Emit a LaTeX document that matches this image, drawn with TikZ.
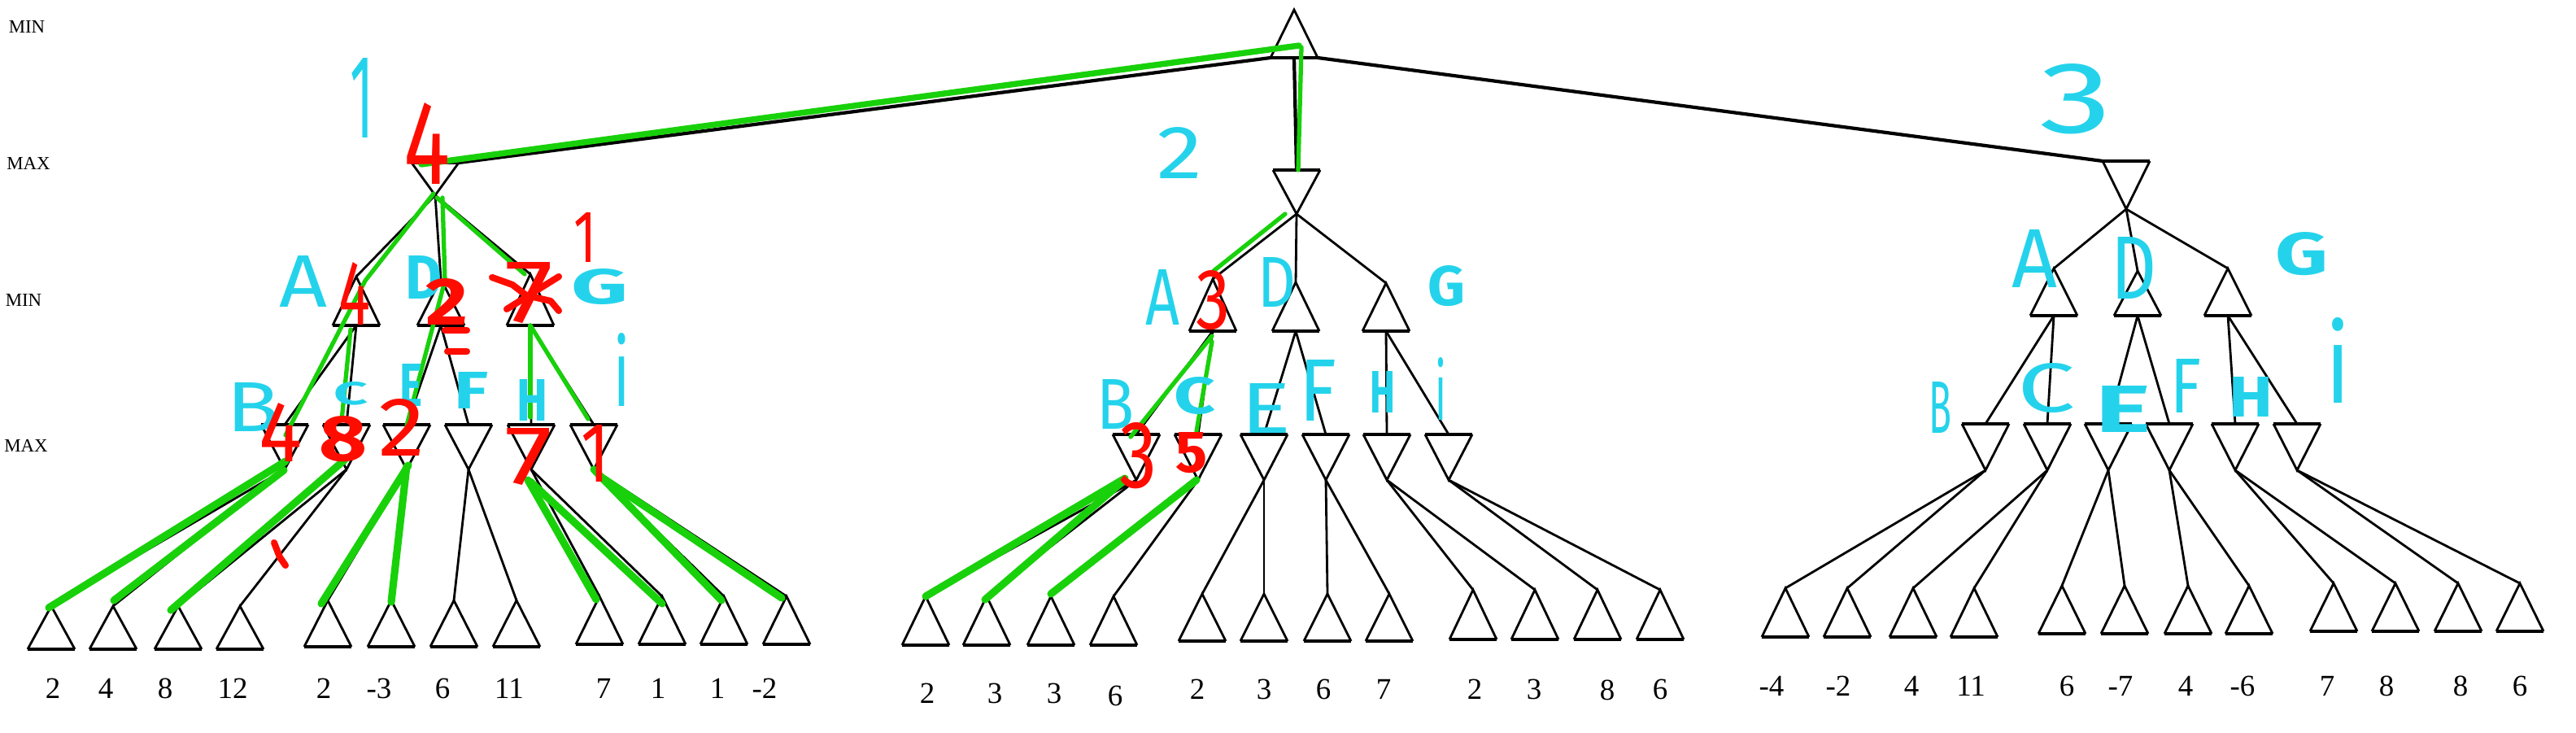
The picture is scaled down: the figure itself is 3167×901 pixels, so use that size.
\documentclass[tikz,border=0pt]{standalone}
\usepackage{fontspec}
\setmainfont{Liberation Serif}
\newfontfamily\hand{Fira Sans}
\usepackage{graphicx}
\newlength\pxu
\setlength\pxu{0.01cm}
\definecolor{hgreen}{RGB}{24,209,10}
\definecolor{hred}{RGB}{255,12,0}
\definecolor{hcyan}{RGB}{36,211,235}
\tikzset{
  side/.style={line width=0.8pt, line join=miter},
  tbase/.style={line width=1.4pt},
  edge/.style={line width=0.8pt},
  rootedge/.style={line width=1.2pt},
  groot/.style={hgreen, line width=2.1pt, line cap=round, line join=round},
  gthick/.style={hgreen, line width=2.6pt, line cap=round, line join=round},
  gmid/.style={hgreen, line width=1.5pt, line cap=round, line join=round},
  rstroke/.style={hred, line width=2.3pt, line cap=round, line join=round},
  lvl/.style={font=\fontsize{6.5}{7}\selectfont, inner sep=0pt},
  leaflab/.style={font=\fontsize{10.5}{12}\selectfont, inner sep=0pt},
  hwn/.style={inner sep=0pt, outer sep=0pt},
}
% up-pointing triangle: name, cx, apex y, base y
\newcommand\uptri[4]{%
  \coordinate (#1) at (#2,#3);
  \coordinate (#1-b) at (#2,#4);
  \coordinate (#1-bl) at ({#2-29},#4);
  \coordinate (#1-br) at ({#2+29},#4);
  \draw[side] (#1-bl) -- (#1) -- (#1-br);
  \draw[tbase] (#1-bl) -- (#1-br);
}
% down-pointing triangle: name, cx, top y, apex y
\newcommand\dntri[4]{%
  \coordinate (#1) at (#2,#3);
  \coordinate (#1-b) at (#2,#4);
  \coordinate (#1-tl) at ({#2-29},#3);
  \coordinate (#1-tr) at ({#2+29},#3);
  \draw[side] (#1-tl) -- (#1-b) -- (#1-tr);
  \draw[tbase] (#1-tl) -- (#1-tr);
}
% handwritten annotation: colour, name, x, y, width, height, text
\newcommand\hwnode[7]{%
  \node[hwn, text=#1] (#2) at (#3,#4) {\resizebox{#5\pxu}{#6\pxu}{\hand\ifnum#6<58 \bfseries\fi #7}};}
\begin{document}
\begin{tikzpicture}[x=0.01cm, y=-0.01cm]
\useasboundingbox (0,0) rectangle (3167,901);

% level labels
\node[lvl] (lv1) at (33,33) {MIN};
\node[lvl] (lv2) at (35,201) {MAX};
\node[lvl] (lv3) at (29,369) {MIN};
\node[lvl] (lv4) at (32,548) {MAX};

% root
\uptri{R}{1591}{12}{71}

% ---------- subtree 1
\dntri{M1}{535}{200}{240}
\uptri{A1}{438}{340}{400}
\uptri{D1}{542}{343}{400}
\uptri{G1}{652}{337}{400}
\foreach \n/\x in {B1/350, C1/426, E1/500, F1/576, H1/653, I1/730} {\dntri{\n}{\x}{522}{577}}
\foreach \n/\x/\t/\b in {La1/63/745/798, La2/139/745/798, La3/219/745/798, La4/295/745/798,
  La5/403/738/795, La6/481/738/795, La7/558/738/795, La8/635/738/795,
  La9/737/733/792, La10/814/733/792, La11/890/733/792, La12/967/733/792} {\uptri{\n}{\x}{\t}{\b}}

% ---------- subtree 2
\dntri{M2}{1594}{209}{263}
\uptri{A2}{1491}{343}{407}
\uptri{D2}{1593}{347}{407}
\uptri{G2}{1704}{348}{407}
\foreach \n/\x in {B2/1397, C2/1473, E2/1554, F2/1630, H2/1705, I2/1781} {\dntri{\n}{\x}{534}{590}}
\foreach \n/\x/\t/\b in {Lb1/1138/733/793, Lb2/1213/733/793, Lb3/1292/733/793, Lb4/1369/733/793,
  Lb5/1478/730/788, Lb6/1554/730/788, Lb7/1632/730/788, Lb8/1708/730/788,
  Lb9/1811/725/786, Lb10/1887/725/786, Lb11/1964/725/786, Lb12/2041/725/786} {\uptri{\n}{\x}{\t}{\b}}

% ---------- subtree 3
\dntri{M3}{2614}{198}{257}
\uptri{A3}{2525}{330}{388}
\uptri{D3}{2628}{333}{388}
\uptri{G3}{2739}{330}{388}
\foreach \n/\x in {B3/2441, C3/2517, E3/2592, F3/2667, H3/2748, I3/2824} {\dntri{\n}{\x}{521}{578}}
\foreach \n/\x/\t/\b in {Lc1/2195/723/783, Lc2/2271/723/783, Lc3/2352/723/783, Lc4/2427/723/783,
  Lc5/2535/720/779, Lc6/2612/720/779, Lc7/2690/720/779, Lc8/2765/720/779,
  Lc9/2869/717/776, Lc10/2945/717/776, Lc11/3022/717/776, Lc12/3098/717/776} {\uptri{\n}{\x}{\t}{\b}}

% ---------- edges
\draw[rootedge] (R-bl) -- (M1-tr);
\draw[rootedge] (R-b) -- (M2);
\draw[rootedge] (R-br) -- (M3-tl);
\foreach \s in {1,2,3} {
  \draw[edge] (M\s-b) -- (A\s);
  \draw[edge] (M\s-b) -- (D\s);
  \draw[edge] (M\s-b) -- (G\s);
  \draw[edge] (A\s-b) -- (B\s);
  \draw[edge] (A\s-b) -- (C\s);
  \draw[edge] (D\s-b) -- (E\s);
  \draw[edge] (D\s-b) -- (F\s);
  \draw[edge] (G\s-b) -- (H\s);
  \draw[edge] (G\s-b) -- (I\s);
}
\foreach \s/\l in {1/a,2/b,3/c} {
  \draw[edge] (B\s-b) -- (L\l1);  \draw[edge] (B\s-b) -- (L\l2);
  \draw[edge] (C\s-b) -- (L\l3);  \draw[edge] (C\s-b) -- (L\l4);
  \draw[edge] (E\s-b) -- (L\l5);  \draw[edge] (E\s-b) -- (L\l6);
  \draw[edge] (F\s-b) -- (L\l7);  \draw[edge] (F\s-b) -- (L\l8);
  \draw[edge] (H\s-b) -- (L\l9);  \draw[edge] (H\s-b) -- (L\l10);
  \draw[edge] (I\s-b) -- (L\l11); \draw[edge] (I\s-b) -- (L\l12);
}

% ---------- leaf values
\foreach \n/\x/\v in {va1/65/2, va2/130/4, va3/203/8, va4/286/12, va5/398/2, va6/466/-3,
  va7/544/6, va8/626/11, va9/742/7, va10/809/1, va11/882/1, va12/940/-2}
  {\node[leaflab] (\n) at (\x,846) {\v};}
\foreach \n/\x/\y/\v in {vb1/1140/852/2, vb2/1223/852/3, vb3/1296/852/3, vb4/1371/855/6,
  vb5/1472/847/2, vb6/1554/847/3, vb7/1627/847/6, vb8/1701/847/7,
  vb9/1813/847/2, vb10/1886/847/3, vb11/1976/848/8, vb12/2041/847/6}
  {\node[leaflab] (\n) at (\x,\y) {\v};}
\foreach \n/\x/\v in {vc1/2178/-4, vc2/2260/-2, vc3/2350/4, vc4/2423/11, vc5/2541/6, vc6/2607/-7,
  vc7/2687/4, vc8/2757/-6, vc9/2861/7, vc10/2934/8, vc11/3025/8, vc12/3098/6}
  {\node[leaflab] (\n) at (\x,843) {\v};}

% ---------- green highlighted lines
\draw[groot] (518,202) -- (1597,56);
\draw[gmid] (1600,58) -- (1596,209);
\draw[gmid] (533,238) -- (449,345) -- (351,535);
\draw[gmid] (431,405) -- (420,517);
\draw[gmid] (544,243) -- (547,345) -- (500,523);
\draw[gmid] (537,243) -- (645,337);
\draw[gmid] (652,400) -- (652,513);
\draw[gmid] (652,400) -- (723,515);
\draw[gthick] (351,567) -- (60,747);
\draw[gthick] (349,578) -- (140,738);
\draw[gthick] (424,565) -- (210,750);
\draw[gthick] (502,572) -- (395,742);
\draw[gthick] (500,573) -- (481,740);
\draw[gthick] (649,590) -- (733,737);
\draw[gthick] (652,592) -- (814,742);
\draw[gthick] (730,577) -- (887,738);
\draw[gthick] (737,585) -- (961,735);
\draw[gmid] (1580,263) -- (1492,333);
\draw[gmid] (1490,413) -- (1390,537);
\draw[gmid] (1490,420) -- (1471,530);
\draw[gthick] (1383,588) -- (1138,733);
\draw[gthick] (1380,592) -- (1211,737);
\draw[gthick] (1471,590) -- (1292,730);

% ---------- cyan annotations
\hwnode{hcyan}{ca1}{445}{121}{29}{98}{1}
\hwnode{hcyan}{ca2}{373}{346}{59}{63}{A}
\hwnode{hcyan}{ca3}{521}{341}{45}{53}{D}
\hwnode{hcyan}{ca4}{737}{353}{70}{43}{G}
\hwnode{hcyan}{ca5}{764}{455}{20}{90}{i}
\hwnode{hcyan}{ca6}{311}{500}{65}{60}{B}
\hwnode{hcyan}{ca7}{431}{484}{42}{28}{C}
\hwnode{hcyan}{ca8}{505}{474}{28}{52}{E}
\hwnode{hcyan}{ca9}{579}{480}{42}{45}{F}
\hwnode{hcyan}{ca10}{654}{492}{38}{51}{H}
\hwnode{hcyan}{cb1}{1450}{188}{56}{63}{2}
\hwnode{hcyan}{cb2}{1429}{366}{42}{68}{A}
\hwnode{hcyan}{cb3}{1570}{347}{47}{61}{D}
\hwnode{hcyan}{cb4}{1778}{352}{46}{49}{G}
\hwnode{hcyan}{cb5}{1771}{478}{14}{77}{i}
\hwnode{hcyan}{cb6}{1371}{497}{46}{61}{B}
\hwnode{hcyan}{cb7}{1469}{487}{51}{45}{C}
\hwnode{hcyan}{cb8}{1556}{502}{62}{61}{E}
\hwnode{hcyan}{cb9}{1620}{480}{46}{75}{F}
\hwnode{hcyan}{cb10}{1700}{482}{31}{51}{H}
\hwnode{hcyan}{cc1}{2552}{122}{89}{85}{3}
\hwnode{hcyan}{cc2}{2501}{318}{56}{71}{A}
\hwnode{hcyan}{cc3}{2623}{330}{56}{76}{D}
\hwnode{hcyan}{cc4}{2830}{312}{65}{52}{G}
\hwnode{hcyan}{cc5}{2874}{443}{30}{105}{i}
\hwnode{hcyan}{cc6}{2385}{501}{28}{63}{B}
\hwnode{hcyan}{cc7}{2516}{477}{71}{60}{C}
\hwnode{hcyan}{cc8}{2610}{503}{68}{57}{E}
\hwnode{hcyan}{cc9}{2687}{475}{38}{66}{F}
\hwnode{hcyan}{cc10}{2767}{488}{54}{49}{H}

% ---------- red annotations
\hwnode{hred}{ra1}{525}{177}{57}{100}{4}
\hwnode{hred}{ra2}{436}{361}{39}{77}{4}
\hwnode{hred}{ra3}{549}{371}{52}{57}{2}
\hwnode{hred}{ra4}{650}{360}{60}{74}{7}
\hwnode{hred}{ra5}{719}{292}{28}{61}{1}
\hwnode{hred}{ra6}{345}{531}{53}{72}{4}
\hwnode{hred}{ra7}{422}{540}{59}{55}{8}
\hwnode{hred}{ra8}{494}{525}{57}{70}{2}
\hwnode{hred}{ra9}{650}{562}{59}{69}{7}
\hwnode{hred}{ra10}{732}{558}{35}{70}{1}
\hwnode{hred}{rb1}{1491}{369}{42}{72}{3}
\hwnode{hred}{rb2}{1399}{560}{46}{80}{3}
\hwnode{hred}{rb3}{1465}{557}{39}{49}{5}
\draw[rstroke] (605,341) -- (630,350) -- (647,363) -- (677,370) -- (687,382);
\draw[rstroke] (687,340) -- (623,380);
\draw[rstroke] (547,406) -- (574,406);
\draw[rstroke] (550,432) -- (574,432);
\draw[rstroke] (337,667) -- (344,685) -- (351,695);
\end{tikzpicture}
\end{document}
